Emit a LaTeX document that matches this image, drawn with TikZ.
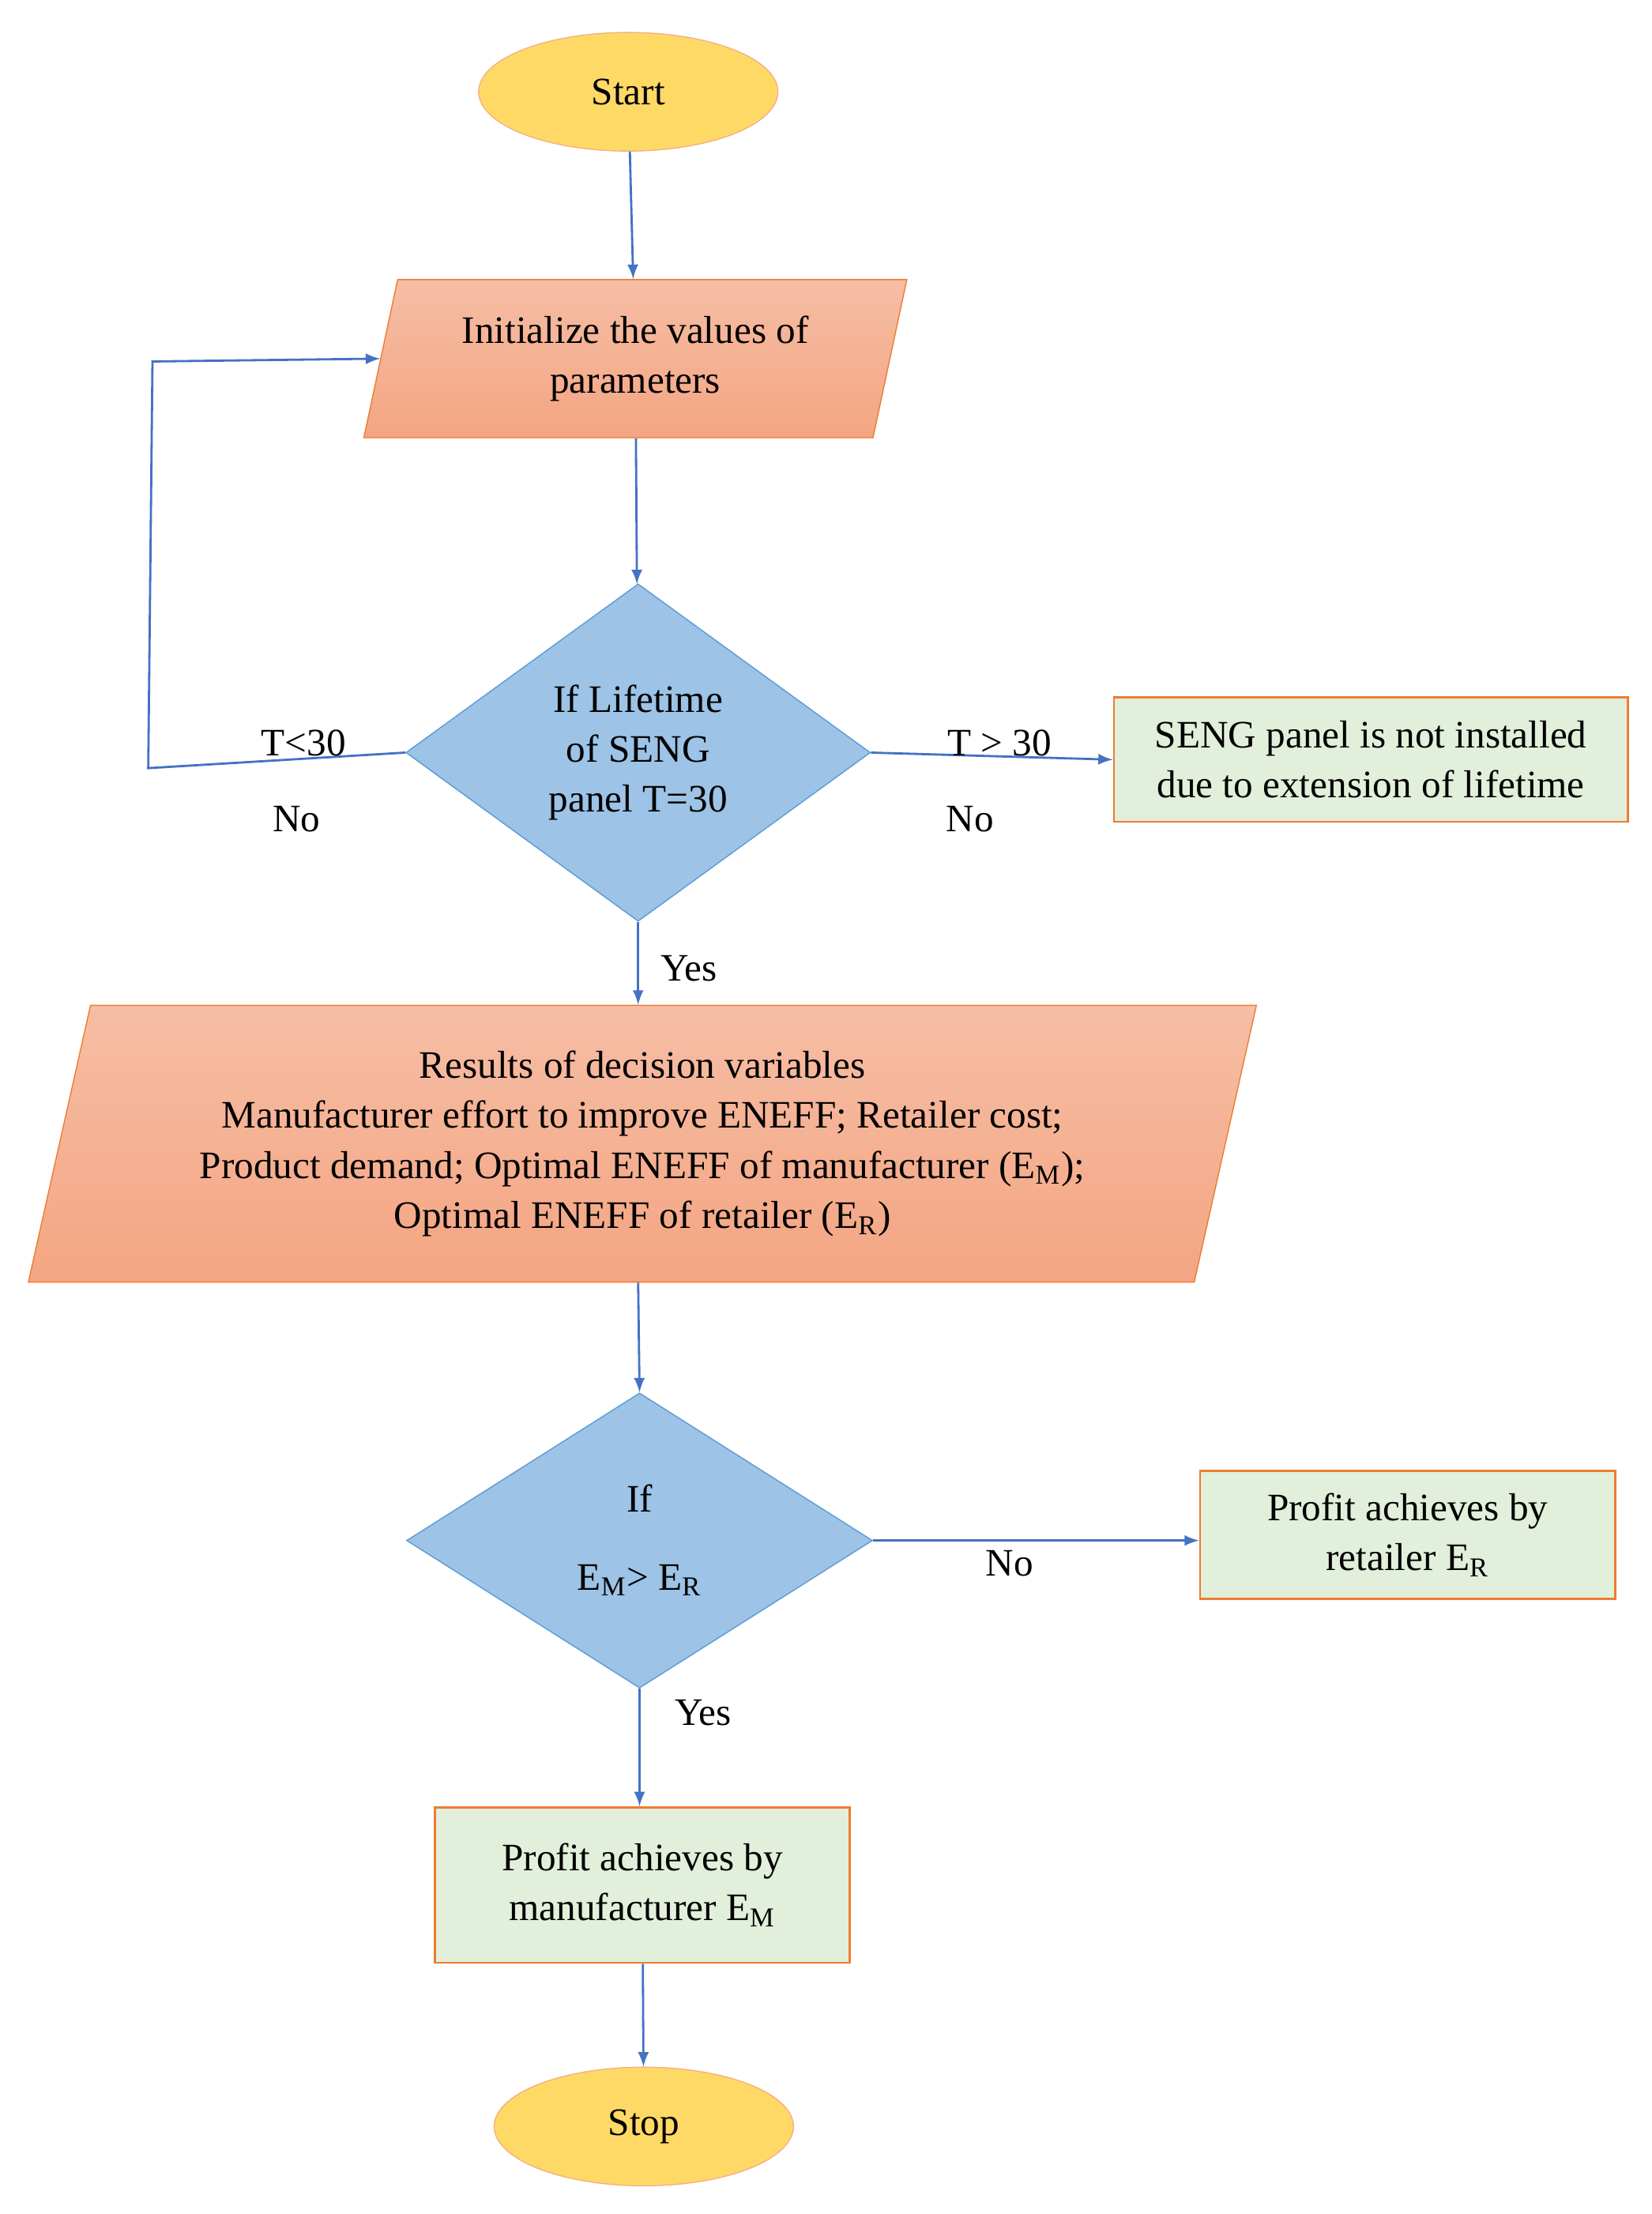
\documentclass[tikz,border=0pt]{standalone}
\usepackage{fontspec}
\setmainfont{Liberation Serif}
\usetikzlibrary{shapes.geometric, positioning}
\definecolor{termfill}{RGB}{255, 217, 102}
\definecolor{termline}{RGB}{244, 177, 131}
\definecolor{iofill}{RGB}{244, 165, 130}
\definecolor{iotop}{RGB}{246, 190, 165}
\definecolor{ioline}{RGB}{237, 125, 49}
\definecolor{decfill}{RGB}{157, 195, 230}
\definecolor{decline}{RGB}{91, 155, 213}
\definecolor{boxfill}{RGB}{226, 239, 218}
\definecolor{arrowblue}{RGB}{68, 114, 196}

\begin{document}
\begin{tikzpicture}[
  x=0.01787cm, y=-0.01787cm,
  font=\fontsize{14}{18}\selectfont,
  terminal/.style={
    ellipse,
    draw=termline,
    fill=termfill,
    minimum width=212*0.01787cm,
    minimum height=84*0.01787cm,
  },
  inout/.style={
    trapezium,
    trapezium left angle=76,
    trapezium right angle=104,
    trapezium stretches=true,
    draw=ioline,
    top color=iotop,
    bottom color=iofill,
    align=center,
  },
  decision/.style={
    diamond,
    draw=decline,
    fill=decfill,
    minimum width=329*0.01787cm,
    minimum height=239*0.01787cm,
    align=center,
    inner sep=0pt,
  },
  result/.style={
    draw=ioline,
    fill=boxfill,
    thick,
    align=center,
  },
  flow/.style={
    draw=arrowblue,
    thick,
    -latex,
  }
]
  \useasboundingbox (0,0) rectangle (1170,1568);

  % Start
  \node[terminal] (start) at (445, 65) {Start};

  % Initialize
  \node[inout, minimum width=385*0.01787cm, minimum height=112*0.01787cm] (init) at (450, 254)
    {Initialize the values of\\parameters};

  % Lifetime check
  \node[decision] (life) at (452, 533) {If Lifetime\\of SENG\\panel T=30};

  % Not installed
  \node[result, minimum width=364*0.01787cm, minimum height=88*0.01787cm] (notinst) at (971, 538)
    {SENG panel is not installed\\due to extension of lifetime};

  % Results
  \node[inout, minimum width=870*0.01787cm, minimum height=196*0.01787cm] (results) at (455, 810)
    {Results of decision variables\\
     Manufacturer effort to improve ENEFF; Retailer cost;\\
     Product demand; Optimal ENEFF of manufacturer (E\textsubscript{M});\\
     Optimal ENEFF of retailer (E\textsubscript{R})};

  % Compare
  \node[decision, minimum width=330*0.01787cm, minimum height=209*0.01787cm] (cmp) at (453, 1091)
    {If\\[10pt]E\textsubscript{M}> E\textsubscript{R}};

  % Retailer
  \node[result, minimum width=294*0.01787cm, minimum height=91*0.01787cm] (retail) at (997, 1087)
    {Profit achieves by\\retailer E\textsubscript{R}};

  % Manufacturer
  \node[result, minimum width=294*0.01787cm, minimum height=110*0.01787cm] (manuf) at (455, 1335)
    {Profit achieves by\\manufacturer E\textsubscript{M}};

  % Stop
  \node[terminal] (stop) at (456, 1506) {Stop};

  \coordinate (loopa) at (105, 544);
  \coordinate (loopb) at (108, 256);

  \draw[flow] (start) -- (init);
  \draw[flow] (init) -- (life);
  \draw[flow] (life.west) -- (loopa) -- (loopb) -- (init.west);
  \draw[flow] (life.east) -- (notinst.west);
  \draw[flow] (life.south) -- (results.north -| life.south);
  \draw[flow] (results.south -| life.south) -- (cmp.north);
  \draw[flow] (cmp.east) -- (retail.west |- cmp.east);
  \draw[flow] (cmp.south) -- (manuf.north -| cmp.south);
  \draw[flow] (manuf) -- (stop);

  \node (lt) at (215, 526) {T<30};
  \node (lno) at (210, 580) {No};
  \node (gt) at (708, 526) {T > 30};
  \node (rno) at (687, 580) {No};
  \node (yes1) at (488, 686) {Yes};
  \node (no2) at (715, 1107) {No};
  \node (yes2) at (498, 1213) {Yes};
\end{tikzpicture}
\end{document}
